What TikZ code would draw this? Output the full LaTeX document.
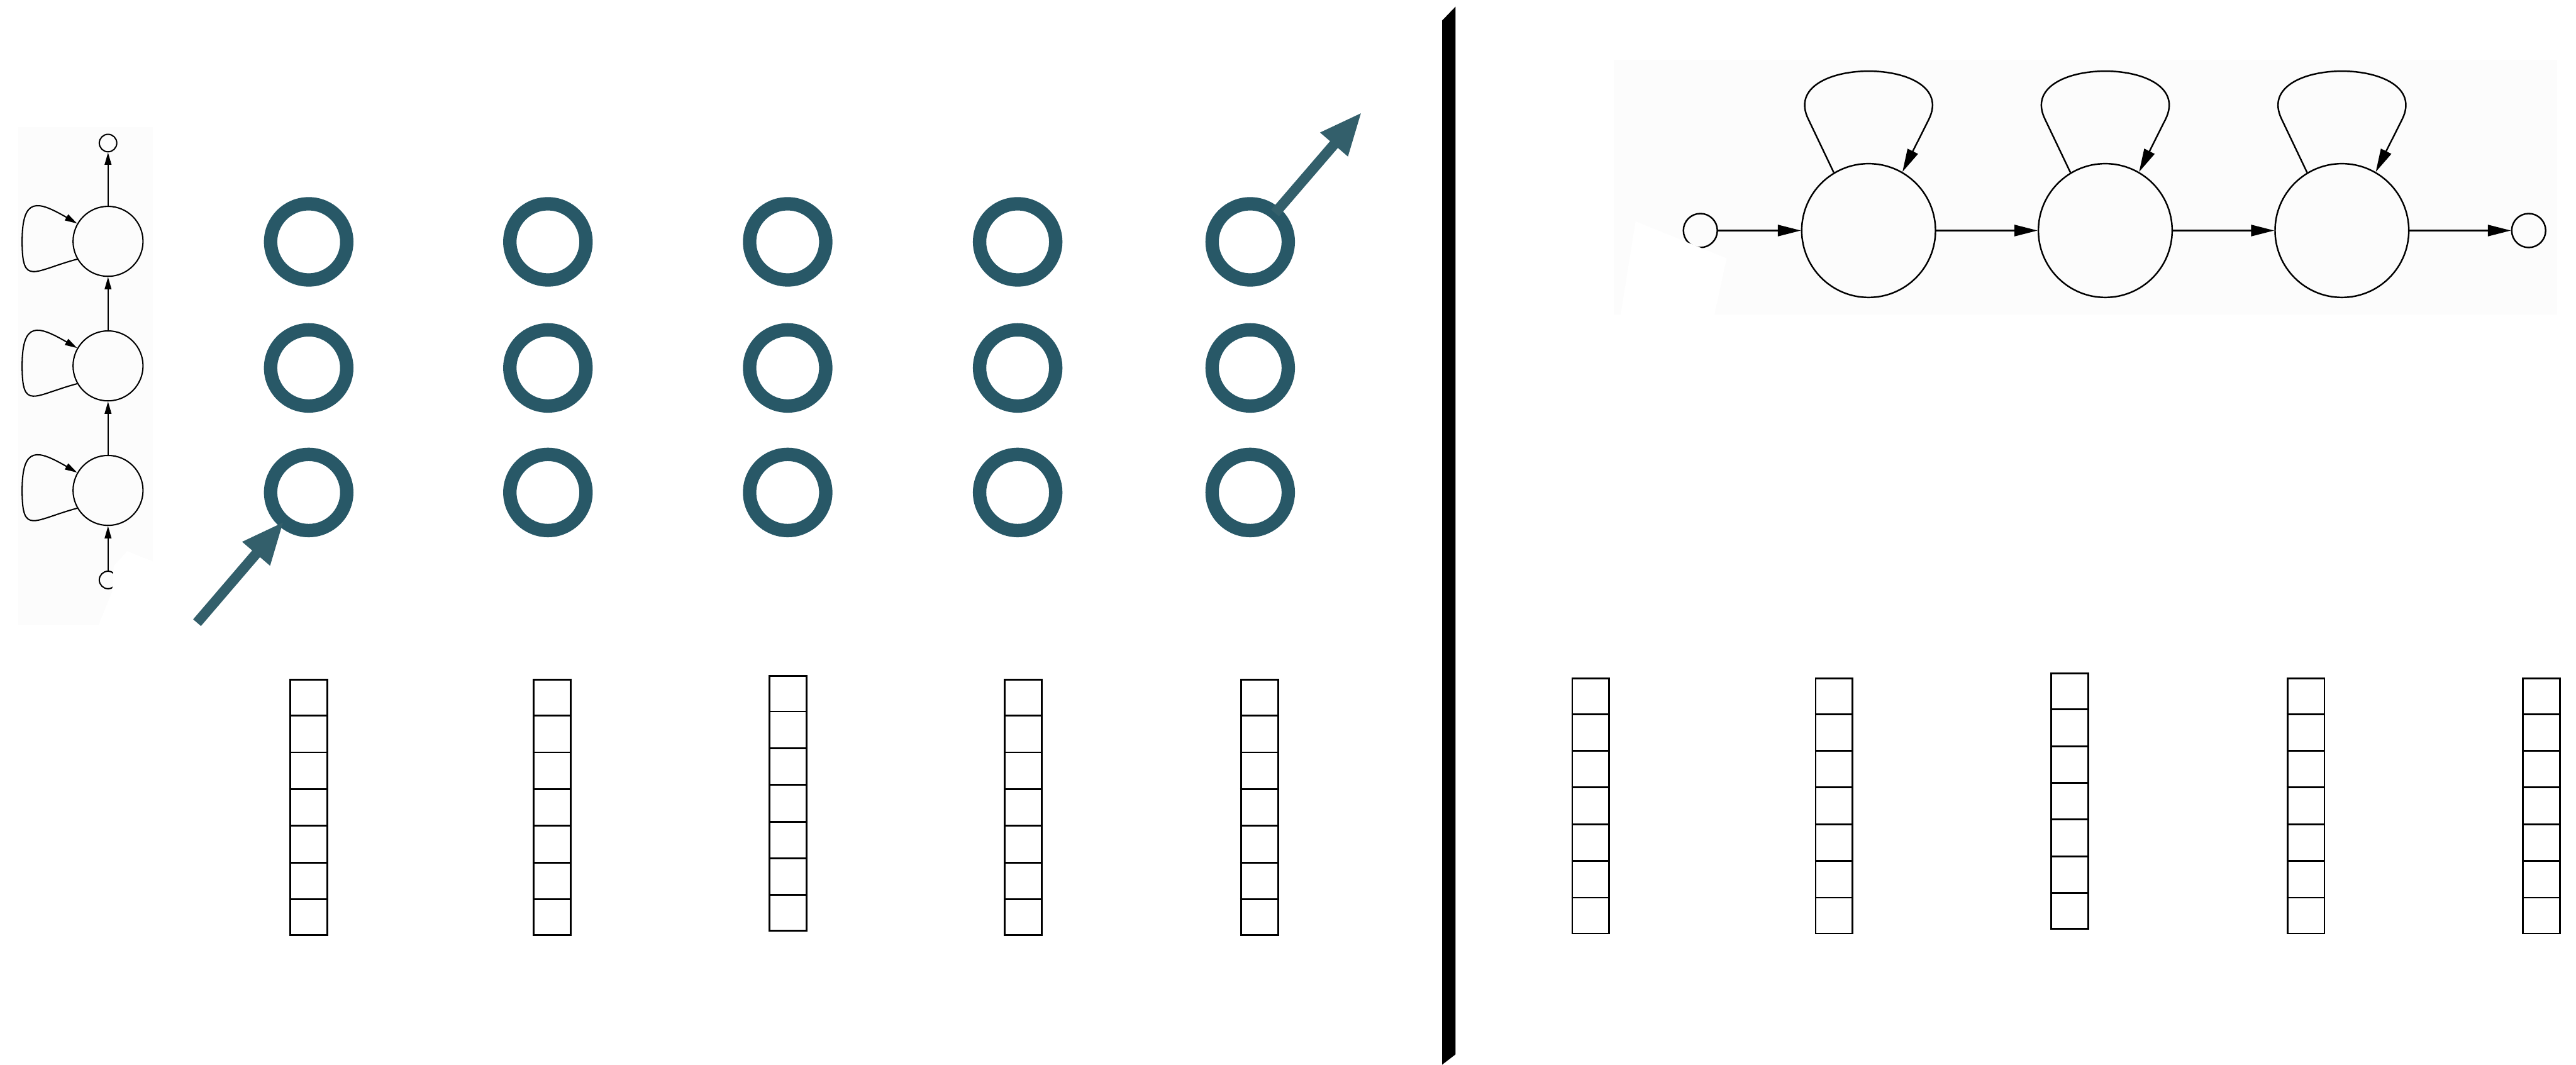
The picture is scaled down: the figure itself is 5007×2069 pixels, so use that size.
\documentclass[tikz,border=0pt]{standalone}
\usepackage{tikz}
\usetikzlibrary{arrows.meta,calc}
\definecolor{ringteal}{HTML}{285867}
\definecolor{arrowteal}{HTML}{335F6B}
\definecolor{panelgray}{HTML}{FCFCFC}

\begin{document}
\begin{tikzpicture}[x=0.1mm, y=0.1mm]
  \tikzstyle{ring}=[circle, draw=ringteal, line width=2.6mm, minimum size=14.8mm, inner sep=0pt, outer sep=0pt]
  \tikzstyle{bigarrow}=[arrowteal, line width=2mm, -{Triangle[length=8.3mm, width=6.5mm]}]
  \tikzstyle{vec}=[rectangle, draw, line width=0.35mm, minimum width=7.2mm, minimum height=49.6mm, inner sep=0pt]
  \tikzstyle{lunit}=[circle, draw, line width=0.25mm, minimum size=13.6mm, inner sep=0pt]
  \tikzstyle{lend}=[circle, draw, line width=0.25mm, minimum size=3.4mm, inner sep=0pt]
  \tikzstyle{rstate}=[circle, draw, line width=0.3mm, minimum size=26mm, inner sep=0pt]
  \tikzstyle{rend}=[circle, draw, line width=0.3mm, minimum size=6.6mm, inner sep=0pt]
  \tikzstyle{upline}=[line width=0.25mm, -{Triangle[length=2.4mm, width=1.3mm]}]
  \tikzstyle{link}=[line width=0.3mm, -{Triangle[length=4.5mm, width=2.2mm]}]

  \useasboundingbox (0,0) rectangle (5007,-2069);

  % folded chain, drawn upwards
  \fill[panelgray] (35,-247) rectangle (297,-1215);
  \node[lunit] (a1) at (210,-469) {};
  \node[lunit, below of=a1, node distance=24.2mm] (a2) {};
  \node[lunit, below of=a2, node distance=24.2mm] (a3) {};
  \node[lend, above of=a1, node distance=19.1mm] (s4) {};
  \node[lend, below of=a3, node distance=17.4mm] (s0) {};
  \draw[upline] (s0) -- (a3);
  \draw[upline] (a3) -- (a2);
  \draw[upline] (a2) -- (a1);
  \draw[upline] (a1) -- (s4);
  \foreach \n/\y in {a1/469, a2/711, a3/953}
    \draw[upline] (\n.210) to[out=195, in=270, looseness=2] (43,-\y)
      to[out=90, in=150, looseness=2] (\n.150);
  \fill[white] (190,-1218) -- (218,-1150) -- (221,-1100) -- (247,-1071) -- (297,-1091) -- (297,-1218) -- cycle;

  % hidden units
  \foreach \x [count=\c] in {600, 1065, 1531, 1978, 2430}
    \foreach \y [count=\r] in {470, 715, 957}
      \node[ring] (h\c\r) at (\x,-\y) {};
  \coordinate (inp) at (383,-1210);
  \coordinate (outp) at (2647,-218);
  \draw[bigarrow] (inp) -- (h13);
  \draw[bigarrow] (h51) -- (outp);

  % divider
  \fill (2803,-40) -- (2829,-13) -- (2829,-2049) -- (2803,-2069) -- cycle;

  % chain with self loops
  \fill[panelgray] (3137,-116) rectangle (4970,-611);
  \node[rstate] (b1) at (3632,-448) {};
  \node[rstate, right of=b1, node distance=46mm] (b2) {};
  \node[rstate, right of=b2, node distance=46mm] (b3) {};
  \node[rend, left of=b1, node distance=32.7mm] (sL) {};
  \node[rend, right of=b3, node distance=36.3mm] (sR) {};
  \draw[link] (sL) -- (b1);
  \draw[link] (b1) -- (b2);
  \draw[link] (b2) -- (b3);
  \draw[link] (b3) -- (sR);
  \foreach \n/\x in {b1/3632, b2/4092, b3/4552}
    \draw[link] (\n.121) -- (\x-117,-232)
      .. controls (\x-179,-107) and (\x+179,-107) .. (\x+117,-232) -- (\n.60);
  \fill[white] (3179,-430) -- (3356,-502) -- (3331,-618) -- (3149,-618) -- cycle;

  % input vectors
  \foreach \x/\y [count=\i] in {600/1569, 1073/1569, 1532/1561, 1989/1569, 2448/1569,
                                3092/1566, 3565/1566, 4023/1557, 4482/1566, 4940/1566} {
    \node[vec] (v\i) at (\x,-\y) {};
    \foreach \k in {1,...,6}
      \draw[line width=0.35mm] ($(v\i.north west)!\k/7!(v\i.south west)$)
        -- ($(v\i.north east)!\k/7!(v\i.south east)$);
  }
\end{tikzpicture}
\end{document}
